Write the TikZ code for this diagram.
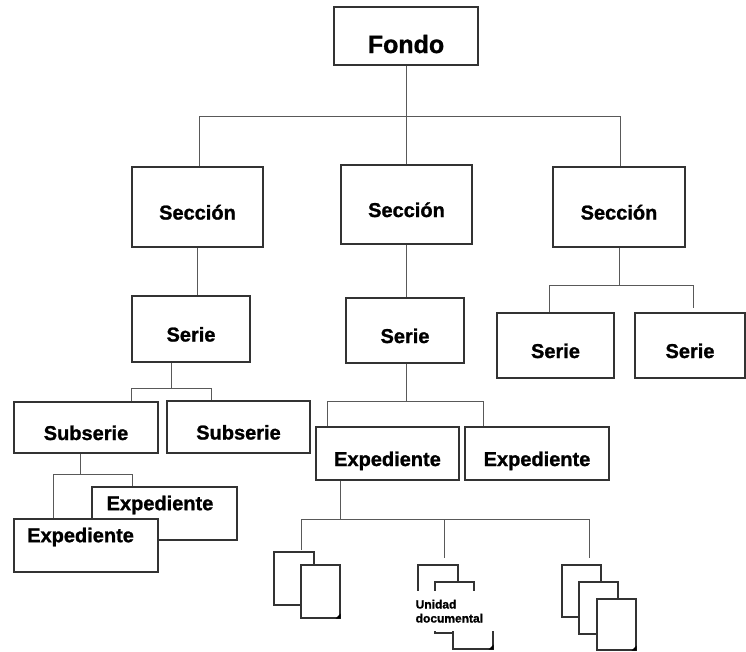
\documentclass[tikz,border=0pt]{standalone}
\usepackage{fontspec}
\setmainfont{Liberation Sans}[BoldFeatures={FakeBold=1.2}]
\begin{document}
\begin{tikzpicture}[x=1pt,y=-1pt,
  lbl/.style={font=\bfseries\fontsize{20}{24}\selectfont},
  box/.style={draw=black!80, line width=1.1pt, fill=white, inner sep=0pt, rectangle,
    lbl, text height=25pt, text depth=0pt},
  bigbox/.style={box, font=\bfseries\fontsize{25}{30}\selectfont, text height=34pt},
  docbox/.style={draw=black!80, line width=1.1pt, fill=white, inner sep=0pt, rectangle},
  conn/.style={draw=black!65, line width=0.9pt}]
\useasboundingbox (0,0) rectangle (746,651);
\newcommand\bx[7][box]{\node[#1, minimum width={(#5-#3)*1pt}, minimum height={(#6-#4)*1pt}] (#2) at ({(#3+#5)/2},{(#4+#6)/2}) {#7};}
\newcommand\dc[5]{\node[docbox, minimum width={(#4-#2)*1pt}, minimum height={(#5-#3)*1pt}] (#1) at ({(#2+#4)/2},{(#3+#5)/2}) {};
  \fill[black] (#1.south east) -- ++(0,-5) -- ++(-5,5) -- cycle;}
% boxes
\bx[bigbox]{fondo}{334}{7}{478}{65}{Fondo}
\bx{sec1}{132}{167}{263}{247}{Sección}
\bx{sec2}{341}{165}{472}{244}{Sección}
\bx{sec3}{553}{167}{685}{247}{Sección}
\bx{ser1}{132}{296}{250}{362}{Serie}
\bx{ser2}{346}{298}{464}{363}{Serie}
\bx{ser3}{497}{313}{614}{378}{Serie}
\bx{ser4}{635}{313}{745}{378}{Serie}
\bx{sub1}{14}{402}{158}{453}{Subserie}
\bx{sub2}{167}{401}{310}{453}{Subserie}
\bx{expA}{92}{487}{237}{540}{}
\node[lbl, inner sep=0pt] (expAt) at (160,505) {Expediente};
\bx{expB}{14}{519}{158}{572}{}
\node[lbl, inner sep=0pt, anchor=west] (expBt) at (27,537) {Expediente};
\bx{exp1}{316}{427}{459}{480}{Expediente}
\bx{exp2}{465}{427}{609}{480}{Expediente}
% documents
\dc{L1}{274}{552}{314}{605}
\dc{L2}{301}{565}{340}{618}
\dc{M1}{418}{565}{458}{615}
\dc{M2}{435}{582}{474}{633}
\dc{M3}{453}{598}{493}{649}
\dc{R1}{562}{565}{601}{617}
\dc{R2}{579}{582}{618}{634}
\dc{R3}{597}{599}{636}{650}
\node[fill=white, anchor=north west, minimum width=82pt, minimum height=40pt, inner sep=1.5pt,
  text width=79pt, align=left, font=\bfseries\fontsize{12}{14}\selectfont] (ud) at (414,591) {Unidad\\documental};
% connectors
\coordinate (j0) at (406,116);
\coordinate (j1) at (199,116);
\coordinate (j2) at (620,116);
\draw[conn] (fondo.south) -- (fondo.south |- j0);
\draw[conn] (j1 |- sec1.north) -- (j1) -- (j2) -- (j2 |- sec3.north);
\draw[conn] (sec2.north -| j0) -- (j0);
\draw[conn] (sec1.south) -- (sec1.south |- ser1.north);
\draw[conn] (sec2.south) -- (sec2.south |- ser2.north);
\coordinate (k0) at (619,285);
\coordinate (k1) at (549,285);
\coordinate (k2) at (693,285);
\draw[conn] (sec3.south -| k0) -- (k0);
\draw[conn] (k1 |- ser3.north) -- (k1) -- (k2) -- ++(0,23);
\coordinate (s0) at (171,388);
\coordinate (s1) at (131,388);
\coordinate (s2) at (211,388);
\draw[conn] (ser1.south -| s0) -- (s0);
\draw[conn] (s1 |- sub1.north) -- (s1) -- (s2) -- (s2 |- sub2.north);
\coordinate (m0) at (406,401);
\coordinate (m1) at (327,401);
\coordinate (m2) at (483,401);
\draw[conn] (ser2.south -| m0) -- (m0);
\draw[conn] (m1 |- exp1.north) -- (m1) -- (m2) -- (m2 |- exp2.north);
\coordinate (u0) at (80,474);
\coordinate (u1) at (53,474);
\coordinate (u2) at (132,474);
\draw[conn] (sub1.south -| u0) -- (u0);
\draw[conn] (u1 |- expB.north) -- (u1) -- (u2) -- (u2 |- expA.north);
\coordinate (e0) at (340,519);
\coordinate (g1) at (301,550);
\coordinate (g2) at (444,558);
\coordinate (g3) at (589,558);
\draw[conn] (exp1.south -| e0) -- (e0);
\draw[conn] (g1) -- (g1 |- e0) -- (g3 |- e0) -- (g3);
\draw[conn] (g2 |- e0) -- (g2);
\end{tikzpicture}
\end{document}
